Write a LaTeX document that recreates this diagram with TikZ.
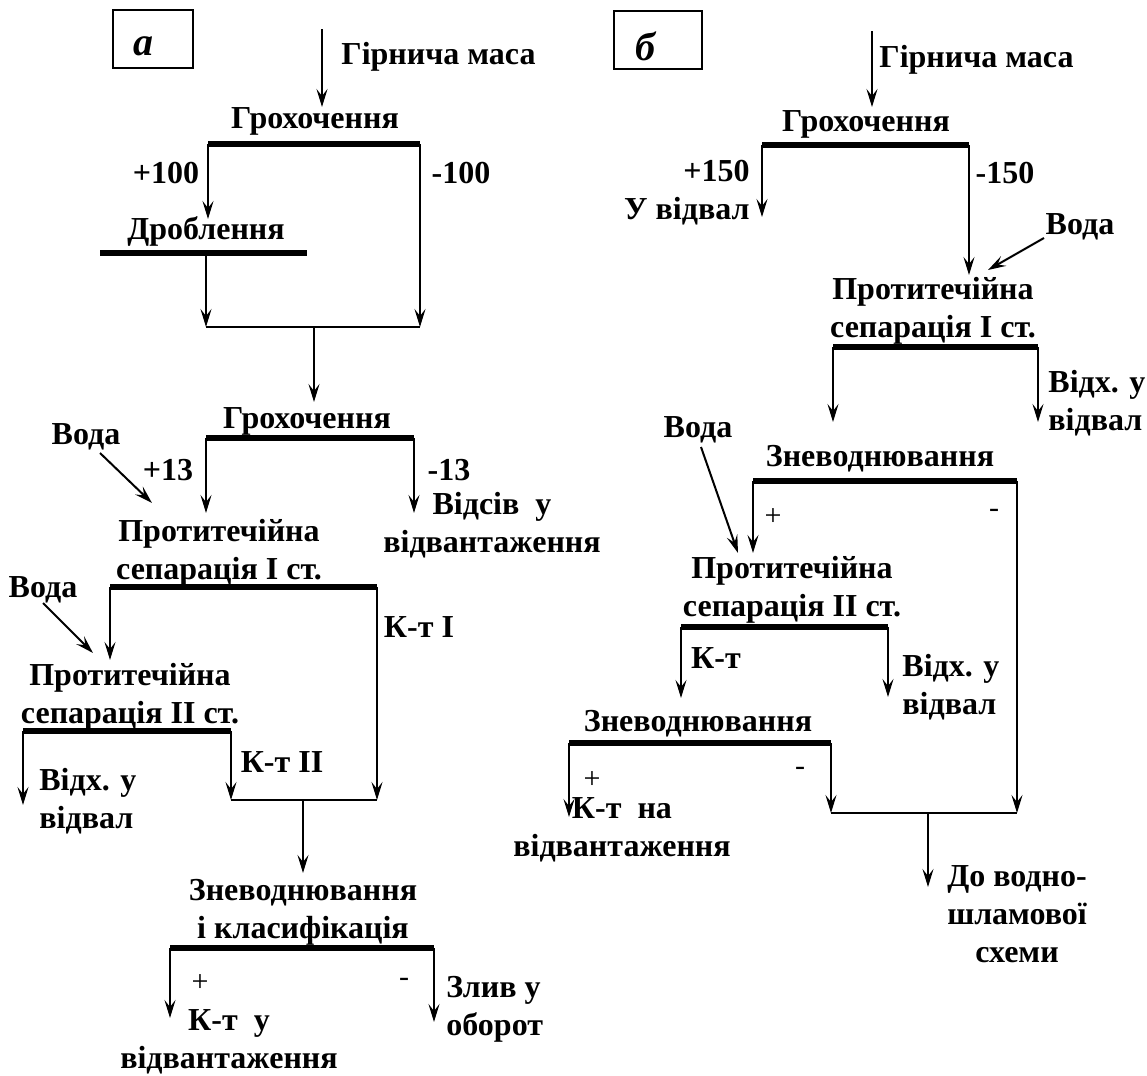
\documentclass[tikz,border=0pt]{standalone}
\usepackage{fontspec}
\setmainfont{Liberation Serif}
\usetikzlibrary{arrows.meta}

\begin{document}
\begin{tikzpicture}[x=0.5pt, y=-0.5pt,
  lbl/.style={font=\fontsize{16}{19}\selectfont\bfseries, inner sep=0pt, align=center},
  sgn/.style={font=\fontsize{15}{18}\selectfont, inner sep=0pt},
  tag/.style={font=\fontsize{20}{22}\selectfont\bfseries\itshape, inner sep=0pt},
  tagbox/.style={draw, line width=0.9pt, minimum height=29pt, inner sep=0pt},
  bar/.style={line width=2.6pt},
  pipe/.style={line width=1pt},
  flow/.style={line width=1pt, -{Stealth[length=9pt, width=5.5pt, inset=3.5pt]}}]
\useasboundingbox (0,0) rectangle (1147,1076);

% panel a
\node[tagbox, minimum width=40pt] (boxA) at (153,39) {};
\node[tag] (tagA) at (143,46) {a};

\coordinate (inA) at (322,29);
\coordinate (inA-t) at (322,107);
\node[lbl, anchor=west] (massA) at (341,57) {Гірнича маса};
\node[lbl] (grA) at (315,121) {Грохочення};
\coordinate (grA-w) at (208,144);
\coordinate (grA-e) at (420,144);
\node[lbl] (pA100) at (166,173) {+100};
\node[lbl] (mA100) at (461,173) {-100};
\coordinate (drA-t) at (208,219);
\node[lbl] (drA) at (206,231) {Дроблення};
\coordinate (drA-w) at (100,253);
\coordinate (drA-e) at (307,253);
\coordinate (drA-o) at (206,253);
\coordinate (jnA-l) at (206,327);
\coordinate (jnA-r) at (420,327);
\coordinate (jnA-m) at (314,327);
\coordinate (gr2A-t) at (314,402);

\draw[flow] (inA) -- (inA-t);
\draw[bar] (grA-w) -- (grA-e);
\draw[flow] (grA-w) -- (drA-t);
\draw[bar] (drA-w) -- (drA-e);
\draw[flow] (drA-o) -- (jnA-l);
\draw[flow] (grA-e) -- (jnA-r);
\draw[pipe] (jnA-l) -- (jnA-r);
\draw[flow] (jnA-m) -- (gr2A-t);

\node[lbl] (gr2A) at (307,421) {Грохочення};
\coordinate (gr2A-w) at (206,438);
\coordinate (gr2A-e) at (414,438);
\node[lbl] (pA13) at (168,470) {+13};
\node[lbl] (mA13) at (449,470) {-13};
\coordinate (sep1A-t) at (206,513);
\coordinate (otsA-t) at (414,513);
\node[lbl] (otsA) at (492,525) {Відсів~ у\\відвантаження};
\node[lbl] (vodaA1) at (86,437) {Вода};
\coordinate (vodaA1-s) at (100,453);
\coordinate (vodaA1-t) at (152,503);

\draw[bar] (gr2A-w) -- (gr2A-e);
\draw[flow] (gr2A-w) -- (sep1A-t);
\draw[flow] (gr2A-e) -- (otsA-t);
\draw[flow] (vodaA1-s) -- (vodaA1-t);

\node[lbl] (sep1A) at (219,553) {Протитечійна\\сепарація I ст.};
\coordinate (sep1A-w) at (110,587);
\coordinate (sep1A-e) at (377,587);
\coordinate (sep2A-t) at (110,660);
\node[lbl] (ktA1) at (419,627) {К-т I};
\node[lbl] (vodaA2) at (43,590) {Вода};
\coordinate (vodaA2-s) at (43,603);
\coordinate (vodaA2-t) at (93,653);

\draw[bar] (sep1A-w) -- (sep1A-e);
\draw[flow] (sep1A-w) -- (sep2A-t);
\draw[flow] (vodaA2-s) -- (vodaA2-t);

\node[lbl] (sep2A) at (130,697) {Протитечійна\\сепарація II ст.};
\coordinate (sep2A-w) at (23,731);
\coordinate (sep2A-e) at (231,731);
\coordinate (vidxA-t) at (23,805);
\node[lbl, align=left, anchor=west] (vidxA) at (39,801) {Відх. у\\відвал};
\node[lbl] (ktA2) at (282,762) {К-т II};
\coordinate (jnA2-l) at (231,800);
\coordinate (jnA2-r) at (377,800);
\coordinate (jnA2-m) at (303,800);
\coordinate (zvA-t) at (303,873);

\draw[bar] (sep2A-w) -- (sep2A-e);
\draw[flow] (sep2A-w) -- (vidxA-t);
\draw[flow] (sep2A-e) -- (jnA2-l);
\draw[flow] (sep1A-e) -- (jnA2-r);
\draw[pipe] (jnA2-l) -- (jnA2-r);
\draw[flow] (jnA2-m) -- (zvA-t);

\node[lbl] (zvA) at (303,912) {Зневоднювання\\і класифікація};
\coordinate (zvA-w) at (170,948);
\coordinate (zvA-e) at (434,948);
\coordinate (ktA3-t) at (170,1018);
\coordinate (zlA-t) at (434,1022);
\node[sgn] (plA) at (200,983) {+};
\node[sgn] (miA) at (404,982) {-};
\node[lbl, align=left, anchor=west] (zlA) at (446,1009) {Злив у\\оборот};
\node[lbl] (ktA3) at (229,1042) {К-т~ у\\відвантаження};

\draw[bar] (zvA-w) -- (zvA-e);
\draw[flow] (zvA-w) -- (ktA3-t);
\draw[flow] (zvA-e) -- (zlA-t);

% panel b
\node[tagbox, minimum width=44pt] (boxB) at (658,40) {};
\node[tag] (tagB) at (645,46) {б};

\coordinate (inB) at (872,31);
\coordinate (inB-t) at (872,107);
\node[lbl, anchor=west] (massB) at (879,60) {Гірнича маса};
\coordinate (grB-w) at (762,145);
\coordinate (grB-e) at (969,145);
\node[lbl] (grB) at (866,124) {Грохочення};
\node[lbl, align=right, anchor=east] (pB150) at (750,193) {+150\\У відвал};
\node[lbl] (mB150) at (1005,173) {-150};
\coordinate (vidvB-t) at (762,217);
\coordinate (sep1B-t) at (969,275);
\node[lbl] (vodaB1) at (1080,227) {Вода};
\coordinate (vodaB1-s) at (1044,238);
\coordinate (vodaB1-t) at (988,270);

\draw[flow] (inB) -- (inB-t);
\draw[bar] (grB-w) -- (grB-e);
\draw[flow] (grB-w) -- (vidvB-t);
\draw[flow] (grB-e) -- (sep1B-t);
\draw[flow] (vodaB1-s) -- (vodaB1-t);

\node[lbl] (sep1B) at (933,311) {Протитечійна\\сепарація I ст.};
\coordinate (sep1B-w) at (833,347);
\coordinate (sep1B-e) at (1038,347);
\coordinate (zvB1-t) at (833,422);
\coordinate (vidxB1-t) at (1038,422);
\node[lbl, align=left, anchor=west] (vidxB1) at (1048,403) {Відх. у\\відвал};

\draw[bar] (sep1B-w) -- (sep1B-e);
\draw[flow] (sep1B-w) -- (zvB1-t);
\draw[flow] (sep1B-e) -- (vidxB1-t);

\node[lbl] (zvB1) at (880,459) {Зневоднювання};
\coordinate (zvB1-w) at (753,481);
\coordinate (zvB1-e) at (1017,481);
\coordinate (sep2B-t) at (753,553);
\node[sgn] (plB1) at (773,517) {+};
\node[sgn] (miB1) at (994,513) {-};
\node[lbl] (vodaB2) at (698,430) {Вода};
\coordinate (vodaB2-s) at (701,447);
\coordinate (vodaB2-t) at (738,553);

\draw[bar] (zvB1-w) -- (zvB1-e);
\draw[flow] (zvB1-w) -- (sep2B-t);
\draw[flow] (vodaB2-s) -- (vodaB2-t);

\node[lbl] (sep2B) at (792,590) {Протитечійна\\сепарація II ст.};
\coordinate (sep2B-w) at (681,627);
\coordinate (sep2B-e) at (888,627);
\coordinate (zvB2-t) at (681,698);
\coordinate (vidxB2-t) at (888,697);
\node[lbl] (ktB) at (716,658) {К-т};
\node[lbl, align=left, anchor=west] (vidxB2) at (902,687) {Відх. у\\відвал};

\draw[bar] (sep2B-w) -- (sep2B-e);
\draw[flow] (sep2B-w) -- (zvB2-t);
\draw[flow] (sep2B-e) -- (vidxB2-t);

\node[lbl] (zvB2) at (698,724) {Зневоднювання};
\coordinate (zvB2-w) at (569,743);
\coordinate (zvB2-e) at (831,743);
\coordinate (ktB2-t) at (569,817);
\node[sgn] (plB2) at (592,780) {+};
\node[sgn] (miB2) at (800,771) {-};
\node[lbl] (ktB2) at (622,830) {К-т~ на\\відвантаження};
\coordinate (jnB-l) at (831,813);
\coordinate (jnB-r) at (1017,813);
\coordinate (jnB-m) at (928,813);
\coordinate (shB-t) at (928,887);
\node[lbl] (shB) at (1017,914) {До водно-\\шламової\\схеми};

\draw[bar] (zvB2-w) -- (zvB2-e);
\draw[flow] (zvB2-w) -- (ktB2-t);
\draw[flow] (zvB2-e) -- (jnB-l);
\draw[flow] (zvB1-e) -- (jnB-r);
\draw[pipe] (jnB-l) -- (jnB-r);
\draw[flow] (jnB-m) -- (shB-t);
\end{tikzpicture}
\end{document}
